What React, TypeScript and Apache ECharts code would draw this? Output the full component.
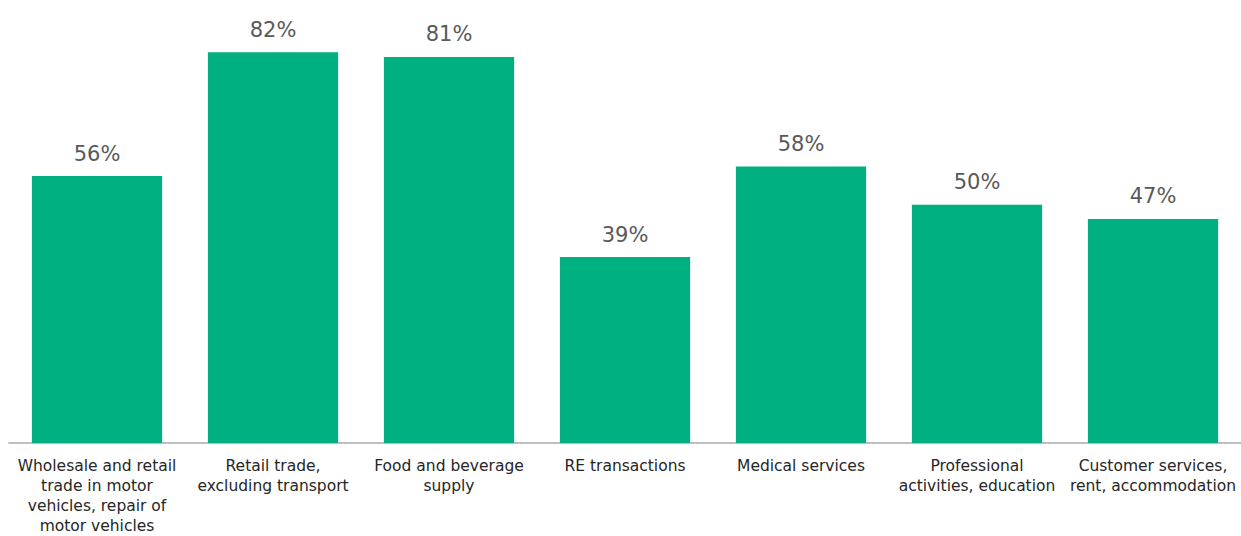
import React, { useEffect, useRef } from "react";
import * as echarts from "echarts";

const categories = [
  "Wholesale and retail\ntrade in motor\nvehicles, repair of\nmotor vehicles",
  "Retail trade,\nexcluding transport",
  "Food and beverage\nsupply",
  "RE transactions",
  "Medical services",
  "Professional\nactivities, education",
  "Customer services,\nrent, accommodation",
];
const values = [56, 82, 81, 39, 58, 50, 47];

export default function App() {
  const ref = useRef<HTMLDivElement>(null);
  useEffect(() => {
    if (!ref.current) return;
    const chart = echarts.init(ref.current, undefined, { renderer: "svg" });
    chart.setOption({
      animation: false,
      grid: { left: 9, right: 0, top: 14, bottom: 87, containLabel: false },
      xAxis: {
        type: "category",
        data: categories,
        axisLine: { lineStyle: { color: "#BFBFBF", width: 2 } },
        axisTick: { show: false },
        axisLabel: {
          interval: 0,
          color: "#262626",
          fontFamily: "DejaVu Sans",
          fontSize: 15.5,
          lineHeight: 20,
          margin: 13,
        },
      },
      yAxis: {
        type: "value",
        min: 0,
        max: 90,
        show: false,
        splitLine: { show: false },
      },
      series: [
        {
          type: "bar",
          data: values,
          barCategoryGap: "26%",
          itemStyle: { color: "#00B080" },
          label: {
            show: true,
            position: "top",
            distance: 12,
            formatter: "{c}%",
            color: "#595959",
            fontFamily: "DejaVu Sans",
            fontSize: 21,
          },
        },
      ],
    });
    return () => chart.dispose();
  }, []);
  return (
    <div
      ref={ref}
      style={{ position: "absolute", left: 0, top: 0, width: 1241, height: 536 }}
    />
  );
}
